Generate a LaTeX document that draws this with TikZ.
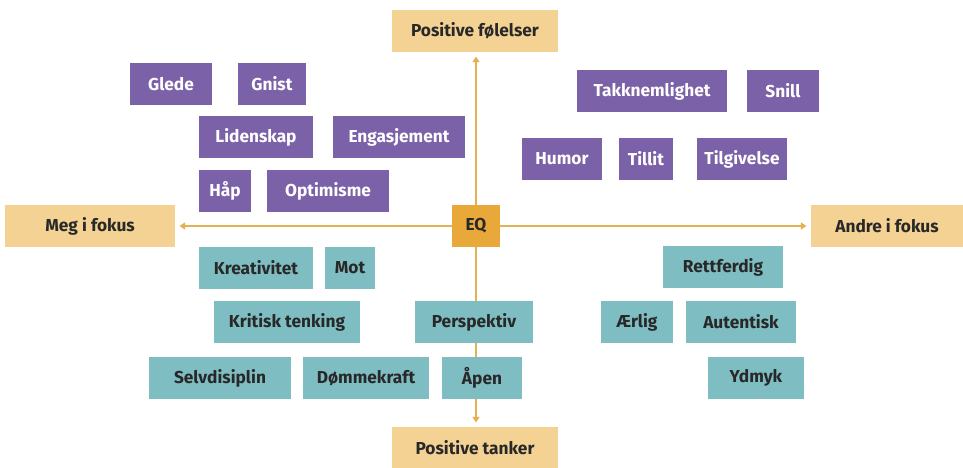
\documentclass[tikz,border=0pt]{standalone}
\usepackage{fontspec}
\setmainfont{Fira Sans}
\usepackage{xcolor}
\usetikzlibrary{arrows.meta, positioning, backgrounds}
\definecolor{feelpurple}{RGB}{123, 97, 168}
\definecolor{thinkteal}{RGB}{126, 189, 194}
\definecolor{axisgold}{RGB}{243, 210, 148}
\definecolor{eqorange}{RGB}{232, 169, 58}
\definecolor{arrowgold}{RGB}{226, 178, 82}
\definecolor{darktext}{RGB}{40, 40, 40}

\begin{document}
\begin{tikzpicture}[
    x=0.025cm, y=-0.025cm,
    box/.style={rectangle, inner sep=0pt, minimum height=1.05cm, align=center, font=\fontsize{12.3}{14}\selectfont\bfseries},
    purplebox/.style={box, fill=feelpurple, text=white},
    tealbox/.style={box, fill=thinkteal, text=darktext},
    goldbox/.style={box, fill=axisgold, text=darktext},
    eqbox/.style={box, fill=eqorange, text=darktext, minimum width=1.2cm},
    arrow/.style={-{Triangle[length=4pt, width=5pt]}, line width=1pt, draw=arrowgold, shorten >=3pt}
]
\useasboundingbox (0,0) rectangle (963,468);

% Axis labels
\node[eqbox] (eq) at (476,226) {EQ};
\node[goldbox, minimum width=4.125cm] (feelings) at (475,31) {Positive følelser};
\node[goldbox, minimum width=4.125cm] (thoughts) at (475,448) {Positive tanker};
\node[goldbox, minimum width=4.25cm] (me) at (90,226) {Meg i fokus};
\node[goldbox, minimum width=3.8cm] (others) at (887,226) {Andre i fokus};

% Feelings, me in focus
\node[purplebox, minimum width=2.05cm] (glede) at (171,84) {Glede};
\node[purplebox, minimum width=1.7cm] (gnist) at (272,84) {Gnist};
\node[purplebox, minimum width=2.85cm] (lidenskap) at (256,137) {Lidenskap};
\node[purplebox, minimum width=3.3cm] (engasjement) at (399,137) {Engasjement};
\node[purplebox, minimum width=1.275cm] (haap) at (225,191) {Håp};
\node[purplebox, minimum width=3.05cm] (optimisme) at (328,191) {Optimisme};

% Feelings, others in focus
\node[purplebox, minimum width=3.75cm] (takk) at (652,91) {Takknemlighet};
\node[purplebox, minimum width=1.8cm] (snill) at (783,91) {Snill};
\node[purplebox, minimum width=1.975cm] (humor) at (562,159) {Humor};
\node[purplebox, minimum width=1.325cm] (tillit) at (646,159) {Tillit};
\node[purplebox, minimum width=2.225cm] (tilgivelse) at (742,159) {Tilgivelse};

% Thoughts, me in focus
\node[tealbox, minimum width=2.825cm] (kreativitet) at (256,268) {Kreativitet};
\node[tealbox, minimum width=1.225cm] (mot) at (350,268) {Mot};
\node[tealbox, minimum width=3.65cm] (kritisk) at (287,322) {Kritisk tenking};
\node[tealbox, minimum width=2.925cm] (perspektiv) at (474,322) {Perspektiv};
\node[tealbox, minimum width=3.525cm] (selvdisiplin) at (220,378) {Selvdisiplin};
\node[tealbox, minimum width=3.125cm] (dommekraft) at (366,378) {Dømmekraft};
\node[tealbox, minimum width=2cm] (aapen) at (482,378) {Åpen};

% Thoughts, others in focus
\node[tealbox, minimum width=2.975cm] (rettferdig) at (723,267) {Rettferdig};
\node[tealbox, minimum width=1.775cm] (aerlig) at (637,322) {Ærlig};
\node[tealbox, minimum width=2.725cm] (autentisk) at (741,322) {Autentisk};
\node[tealbox, minimum width=2.4cm] (ydmyk) at (756,378) {Ydmyk};

% Axes
\begin{scope}[on background layer]
\draw[arrow] (eq.north) -- (eq.north |- feelings.south);
\draw[arrow] (eq.south) -- (eq.south |- thoughts.north);
\draw[arrow] (eq.west) -- (me.east);
\draw[arrow] (eq.east) -- (others.west);
\end{scope}

\end{tikzpicture}
\end{document}
